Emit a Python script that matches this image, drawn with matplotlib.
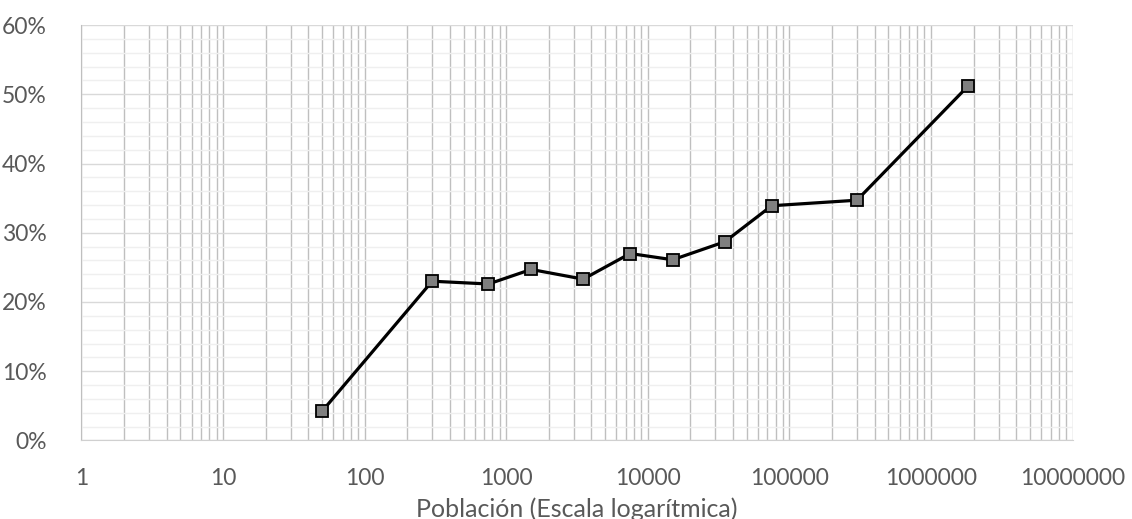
import matplotlib
matplotlib.use("Agg")
import matplotlib.pyplot as plt
from matplotlib.ticker import FixedLocator, FuncFormatter, LogLocator, NullFormatter

plt.rcParams['font.family'] = ['Lato', 'DejaVu Sans']

poblacion = [50, 300, 750, 1500, 3500, 7500, 15000, 35000, 75000, 300000, 1830000]
porcentaje = [4.2, 23.0, 22.6, 24.7, 23.3, 27.0, 26.1, 28.7, 33.9, 34.7, 51.2]
x_ticks = [1, 10, 100, 1000, 10000, 100000, 1000000, 10000000]
x_tick_labels = ["1", "10", "100", "1000", "10000", "100000", "1000000", "10000000"]
y_ticks = [0, 10, 20, 30, 40, 50, 60]
x_label = "Población (Escala logarítmica)"

fig = plt.figure(figsize=(11.32, 5.19), dpi=100)
ax = fig.add_axes([0.0719, 0.1513, 0.8756, 0.8005])

ax.set_xscale('log')
ax.set_xlim(1, 1e7)
ax.set_ylim(0, 60)

ax.xaxis.set_major_locator(FixedLocator(x_ticks))
ax.xaxis.set_major_formatter(FuncFormatter(lambda v, p: x_tick_labels[x_ticks.index(round(v))] if round(v) in x_ticks else ""))
ax.xaxis.set_minor_locator(LogLocator(base=10, subs=range(2, 10), numticks=20))
ax.xaxis.set_minor_formatter(NullFormatter())

ax.yaxis.set_major_locator(FixedLocator(y_ticks))
ax.yaxis.set_major_formatter(FuncFormatter(lambda v, p: f"{int(round(v))}%"))
ax.yaxis.set_minor_locator(FixedLocator([v for v in range(0, 61, 2) if v % 10]))

ax.grid(True, which='major', axis='x', color='#BFBFBF', linewidth=1.0)
ax.grid(True, which='minor', axis='x', color='#BFBFBF', linewidth=1.0)
ax.grid(True, which='major', axis='y', color='#D9D9D9', linewidth=1.0)
ax.grid(True, which='minor', axis='y', color='#EFEFEF', linewidth=1.0)
ax.set_axisbelow(True)

for s in ['top', 'right']:
    ax.spines[s].set_visible(False)
ax.spines['left'].set_color('#BFBFBF')
ax.spines['bottom'].set_color('#D0D0D0')

ax.tick_params(axis='both', which='both', length=0, colors='#595959', labelsize=16.5)
ax.tick_params(axis='x', pad=20)
ax.tick_params(axis='y', pad=25)

ax.plot(poblacion, porcentaje, color='black', linewidth=2.3, marker='s',
        markersize=8.2, markerfacecolor='#7F7F7F', markeredgecolor='black',
        markeredgewidth=1.3, zorder=3, clip_on=False)

ax.set_xlabel(x_label, color='#595959', fontsize=18, labelpad=6)

fig.savefig("out.png", dpi=100)
